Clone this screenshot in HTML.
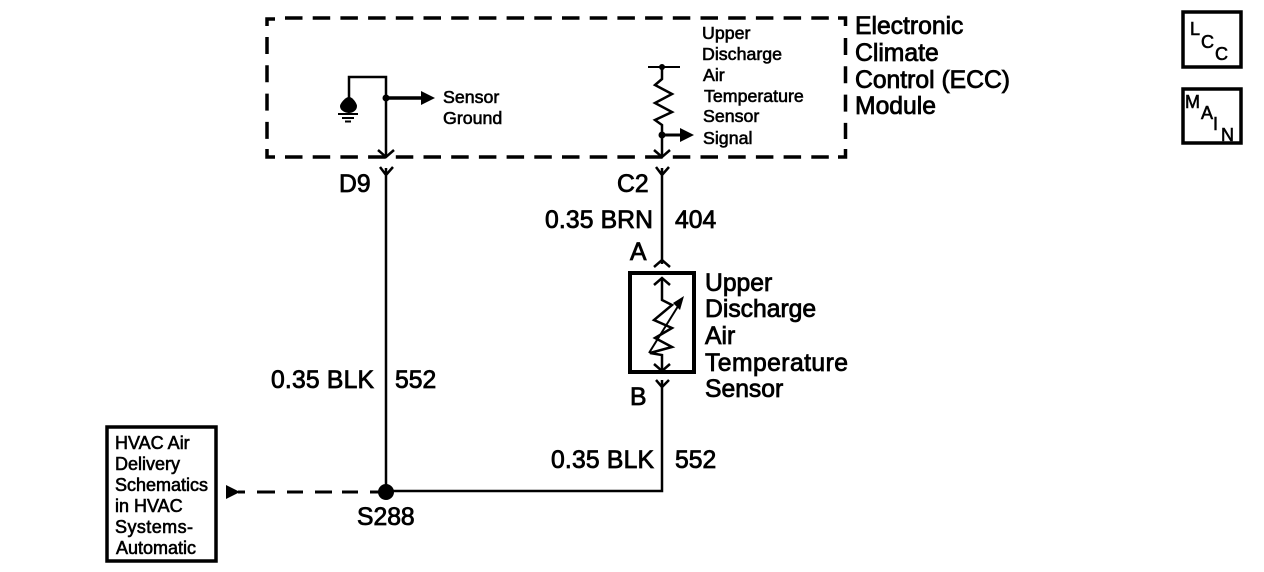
<!DOCTYPE html>
<html><head><meta charset="utf-8">
<style>
html,body{margin:0;padding:0;background:#fff;width:1264px;height:572px;overflow:hidden}
svg{display:block}
text{font-family:"Liberation Sans",sans-serif;fill:#000;stroke:#000}
.b{font-size:24.7px;stroke-width:.8px}
.s{font-size:17.8px;stroke-width:.6px}
.c{font-size:18px;stroke-width:.6px}
</style></head><body>
<svg width="1264" height="572" viewBox="0 0 1264 572" xmlns="http://www.w3.org/2000/svg">
<g fill="none" stroke="#000" stroke-width="3">
<!-- dashed module -->
<g stroke-width="3.5">
<path d="M285 18H830" stroke-dasharray="17.5 10.2"/>
<path d="M285 157H830" stroke-dasharray="17.5 10.2"/>
<path d="M267 37V139" stroke-dasharray="17 11.3"/>
<path d="M845.5 38V139" stroke-dasharray="17 11.3"/>
<path d="M267 26V19H275M267 149V157H275M838 18H845.5V26M845.5 149V157H838"/>
</g>
<!-- ground -->
<path d="M349 100V77H386V157" stroke-width="2.5"/>
<path d="M386 98H424" stroke-width="3.5"/>
<path d="M378 150L386 157L394 150" stroke-width="2.5"/>
<path d="M338 114H358M342 118H354M345 121.500H351" stroke-width="2"/>
<!-- sensor resistor -->
<path d="M648 67H680" stroke-width="2"/>
<path d="M662 67V79L655 85L672 94L655 103L672 112L655 120L662 125V157" stroke-width="2.500"/>
<path d="M662 135H682" stroke-width="3"/>
<path d="M654 150L662 157L670 150" stroke-width="2.5"/>
<!-- wires -->
<path d="M386 168V492M380 167L386 175L393 167" stroke-width="2.5"/>
<path d="M662 168V264M656 167L662 175L669 167" stroke-width="2.500"/>
<path d="M654 267L662 260L670 267" stroke-width="2.500"/>
<path d="M662 380V491H386" stroke-width="2.500"/>
<path d="M656 380L662 387L669 380" stroke-width="2.500"/>
<path d="M238 492H245M257 492H275M287 492H303M315 492H332M342 492H358M370 492H380" stroke-width="3"/>
<!-- sensor box -->
<rect x="630" y="273" width="64" height="99" stroke-width="4"/>
<path d="M662 278V300L672 305L654 320L672 328L655 338L672 347L650 353L662 355V371" stroke-width="2.500"/>
<path d="M654 285L662 278L670 285M654 364L662 371L670 364" stroke-width="2.500"/>
<path d="M649 353L680 303" stroke-width="2"/>
<!-- boxes -->
<rect x="1183" y="12" width="58" height="55" stroke-width="3.500"/>
<rect x="1183" y="89" width="58" height="54" stroke-width="3.500"/>
<rect x="107" y="427" width="109" height="134" stroke-width="3.500"/>
</g>
<!-- filled -->
<circle cx="386" cy="98" r="3.500"/>
<path d="M421 91L435 98L421 105Z"/>
<path d="M349 97C353 97 357 104 357 106C357 111 352 113 349 113C346 113 340 111 340 106C340 104 345 97 349 97Z"/>
<circle cx="662" cy="67" r="3"/>
<circle cx="662" cy="135" r="3.500"/>
<path d="M680 128L694 135L680 142Z"/>
<path d="M684 296L673 303L680 310Z"/>
<circle cx="386" cy="492" r="8"/>
<path d="M226 485L240 492L226 499Z"/>
<!-- large labels -->
<text class="b" x="855" y="34">Electronic</text>
<text class="b" x="855" y="61">Climate</text>
<text class="b" x="855" y="88">Control (ECC)</text>
<text class="b" x="855" y="114">Module</text>
<text class="b" x="705" y="291">Upper</text>
<text class="b" x="705" y="317">Discharge</text>
<text class="b" x="705" y="344">Air</text>
<text class="b" x="705" y="371" textLength="143">Temperature</text>
<text class="b" x="705" y="397">Sensor</text>
<text class="b" x="339" y="192">D9</text>
<text class="b" x="617" y="192">C2</text>
<text class="b" x="545" y="228" textLength="108">0.35 BRN</text>
<text class="b" x="675" y="228">404</text>
<text class="b" x="630" y="260">A</text>
<text class="b" x="630" y="405">B</text>
<text class="b" x="271" y="388" textLength="103">0.35 BLK</text>
<text class="b" x="395" y="388">552</text>
<text class="b" x="551" y="468" textLength="103">0.35 BLK</text>
<text class="b" x="675" y="468">552</text>
<text class="b" x="357" y="525">S288</text>
<!-- small labels -->
<text class="s" x="443" y="103">Sensor</text>
<text class="s" x="443" y="124">Ground</text>
<text class="s" x="702" y="39">Upper</text>
<text class="s" x="702" y="60">Discharge</text>
<text class="s" x="703" y="81">Air</text>
<text class="s" x="704" y="102">Temperature</text>
<text class="s" x="703" y="122">Sensor</text>
<text class="s" x="703" y="144">Signal</text>
<text class="c" x="115" y="449">HVAC Air</text>
<text class="c" x="115" y="470">Delivery</text>
<text class="c" x="115" y="491">Schematics</text>
<text class="c" x="115" y="512">in HVAC</text>
<text class="c" x="115" y="533" textLength="78">Systems-</text>
<text class="c" x="116" y="554" textLength="80">Automatic</text>
<!-- badge letters -->
<text class="c" x="1190" y="35">L</text>
<text class="c" x="1201" y="48">C</text>
<text class="c" x="1215" y="60">C</text>
<text class="c" x="1185" y="108">M</text>
<text class="c" x="1201" y="119">A</text>
<text class="c" x="1213" y="130">I</text>
<text class="c" x="1221" y="141">N</text>
</svg>
</body></html>
